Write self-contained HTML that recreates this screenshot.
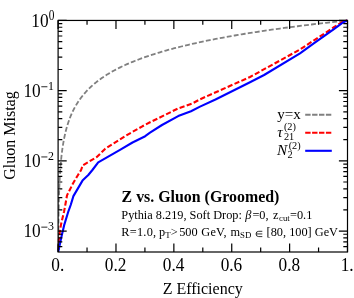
<!DOCTYPE html>
<html><head><meta charset="utf-8"><style>
html,body{margin:0;padding:0;background:#fff;}
svg{display:block;will-change:transform}
</style></head><body>
<svg width="354" height="298" viewBox="0 0 354 298">
<defs><clipPath id="c"><rect x="58.1" y="20.45" width="289.4" height="231.55"/></clipPath></defs>
<rect width="354" height="298" fill="#fff"/>
<path d="M58.25 252.00 L58.25 251.42 L58.25 250.84 L58.25 250.26 L58.26 249.68 L58.26 249.11 L58.26 248.53 L58.27 247.95 L58.27 247.37 L58.27 246.79 L58.28 246.21 L58.28 245.63 L58.28 245.05 L58.29 244.47 L58.29 243.90 L58.29 243.32 L58.30 242.74 L58.30 242.16 L58.30 241.58 L58.31 241.00 L58.31 240.42 L58.32 239.84 L58.32 239.26 L58.33 238.69 L58.33 238.11 L58.33 237.53 L58.34 236.95 L58.34 236.37 L58.35 235.79 L58.35 235.21 L58.36 234.63 L58.36 234.05 L58.37 233.48 L58.37 232.90 L58.38 232.32 L58.38 231.74 L58.39 231.16 L58.39 230.58 L58.40 230.00 L58.41 229.42 L58.41 228.84 L58.42 228.27 L58.42 227.69 L58.43 227.11 L58.44 226.53 L58.44 225.95 L58.45 225.37 L58.46 224.79 L58.46 224.21 L58.47 223.64 L58.48 223.06 L58.48 222.48 L58.49 221.90 L58.50 221.32 L58.51 220.74 L58.51 220.16 L58.52 219.58 L58.53 219.00 L58.54 218.43 L58.55 217.85 L58.55 217.27 L58.56 216.69 L58.57 216.11 L58.58 215.53 L58.59 214.95 L58.60 214.37 L58.61 213.79 L58.62 213.22 L58.63 212.64 L58.64 212.06 L58.65 211.48 L58.66 210.90 L58.67 210.32 L58.68 209.74 L58.69 209.16 L58.70 208.58 L58.72 208.01 L58.73 207.43 L58.74 206.85 L58.75 206.27 L58.76 205.69 L58.78 205.11 L58.79 204.53 L58.80 203.95 L58.82 203.37 L58.83 202.80 L58.85 202.22 L58.86 201.64 L58.87 201.06 L58.89 200.48 L58.90 199.90 L58.92 199.32 L58.94 198.74 L58.95 198.16 L58.97 197.59 L58.98 197.01 L59.00 196.43 L59.02 195.85 L59.04 195.27 L59.05 194.69 L59.07 194.11 L59.09 193.53 L59.11 192.95 L59.13 192.38 L59.15 191.80 L59.17 191.22 L59.19 190.64 L59.21 190.06 L59.23 189.48 L59.25 188.90 L59.28 188.32 L59.30 187.74 L59.32 187.17 L59.34 186.59 L59.37 186.01 L59.39 185.43 L59.42 184.85 L59.44 184.27 L59.47 183.69 L59.49 183.11 L59.52 182.53 L59.55 181.96 L59.58 181.38 L59.60 180.80 L59.63 180.22 L59.66 179.64 L59.69 179.06 L59.72 178.48 L59.75 177.90 L59.79 177.33 L59.82 176.75 L59.85 176.17 L59.88 175.59 L59.92 175.01 L59.95 174.43 L59.99 173.85 L60.03 173.27 L60.06 172.69 L60.10 172.12 L60.14 171.54 L60.18 170.96 L60.22 170.38 L60.26 169.80 L60.30 169.22 L60.34 168.64 L60.38 168.06 L60.43 167.48 L60.47 166.91 L60.52 166.33 L60.56 165.75 L60.61 165.17 L60.66 164.59 L60.71 164.01 L60.76 163.43 L60.81 162.85 L60.86 162.27 L60.91 161.70 L60.97 161.12 L61.02 160.54 L61.08 159.96 L61.14 159.38 L61.20 158.80 L61.25 158.22 L61.31 157.64 L61.38 157.06 L61.44 156.49 L61.50 155.91 L61.57 155.33 L61.64 154.75 L61.70 154.17 L61.77 153.59 L61.84 153.01 L61.91 152.43 L61.99 151.85 L62.06 151.28 L62.14 150.70 L62.22 150.12 L62.29 149.54 L62.37 148.96 L62.46 148.38 L62.54 147.80 L62.62 147.22 L62.71 146.64 L62.80 146.07 L62.89 145.49 L62.98 144.91 L63.08 144.33 L63.17 143.75 L63.27 143.17 L63.37 142.59 L63.47 142.01 L63.57 141.43 L63.68 140.86 L63.78 140.28 L63.89 139.70 L64.00 139.12 L64.12 138.54 L64.23 137.96 L64.35 137.38 L64.47 136.80 L64.59 136.22 L64.71 135.65 L64.84 135.07 L64.97 134.49 L65.10 133.91 L65.24 133.33 L65.37 132.75 L65.51 132.17 L65.66 131.59 L65.80 131.02 L65.95 130.44 L66.10 129.86 L66.25 129.28 L66.41 128.70 L66.57 128.12 L66.73 127.54 L66.89 126.96 L67.06 126.38 L67.24 125.81 L67.41 125.23 L67.59 124.65 L67.77 124.07 L67.96 123.49 L68.14 122.91 L68.34 122.33 L68.53 121.75 L68.73 121.17 L68.94 120.60 L69.15 120.02 L69.36 119.44 L69.57 118.86 L69.79 118.28 L70.02 117.70 L70.25 117.12 L70.48 116.54 L70.72 115.96 L70.96 115.39 L71.20 114.81 L71.45 114.23 L71.71 113.65 L71.97 113.07 L72.24 112.49 L72.51 111.91 L72.78 111.33 L73.07 110.75 L73.35 110.18 L73.65 109.60 L73.94 109.02 L74.25 108.44 L74.56 107.86 L74.87 107.28 L75.19 106.70 L75.52 106.12 L75.86 105.54 L76.20 104.97 L76.54 104.39 L76.90 103.81 L77.26 103.23 L77.62 102.65 L78.00 102.07 L78.38 101.49 L78.77 100.91 L79.16 100.33 L79.57 99.76 L79.98 99.18 L80.40 98.60 L80.83 98.02 L81.26 97.44 L81.71 96.86 L82.16 96.28 L82.62 95.70 L83.09 95.12 L83.57 94.55 L84.06 93.97 L84.55 93.39 L85.06 92.81 L85.58 92.23 L86.10 91.65 L86.64 91.07 L87.19 90.49 L87.75 89.92 L88.31 89.34 L88.89 88.76 L89.48 88.18 L90.09 87.60 L90.70 87.02 L91.32 86.44 L91.96 85.86 L92.61 85.28 L93.27 84.71 L93.95 84.13 L94.63 83.55 L95.33 82.97 L96.05 82.39 L96.77 81.81 L97.51 81.23 L98.27 80.65 L99.04 80.07 L99.83 79.50 L100.62 78.92 L101.44 78.34 L102.27 77.76 L103.12 77.18 L103.98 76.60 L104.86 76.02 L105.76 75.44 L106.67 74.86 L107.60 74.29 L108.55 73.71 L109.52 73.13 L110.50 72.55 L111.51 71.97 L112.53 71.39 L113.57 70.81 L114.64 70.23 L115.72 69.65 L116.83 69.08 L117.95 68.50 L119.10 67.92 L120.27 67.34 L121.46 66.76 L122.67 66.18 L123.91 65.60 L125.17 65.02 L126.46 64.44 L127.77 63.87 L129.10 63.29 L130.47 62.71 L131.85 62.13 L133.27 61.55 L134.71 60.97 L136.18 60.39 L137.67 59.81 L139.20 59.23 L140.75 58.66 L142.34 58.08 L143.95 57.50 L145.60 56.92 L147.27 56.34 L148.98 55.76 L150.73 55.18 L152.50 54.60 L154.31 54.02 L156.16 53.45 L158.04 52.87 L159.95 52.29 L161.90 51.71 L163.89 51.13 L165.92 50.55 L167.99 49.97 L170.09 49.39 L172.24 48.81 L174.43 48.24 L176.66 47.66 L178.93 47.08 L181.25 46.50 L183.61 45.92 L186.01 45.34 L188.47 44.76 L190.96 44.18 L193.51 43.60 L196.11 43.03 L198.75 42.45 L201.45 41.87 L204.20 41.29 L207.00 40.71 L209.85 40.13 L212.76 39.55 L215.72 38.97 L218.75 38.40 L221.83 37.82 L224.96 37.24 L228.16 36.66 L231.42 36.08 L234.74 35.50 L238.13 34.92 L241.58 34.34 L245.10 33.76 L248.68 33.19 L252.34 32.61 L256.06 32.03 L259.85 31.45 L263.72 30.87 L267.66 30.29 L271.68 29.71 L275.77 29.13 L279.95 28.55 L284.20 27.98 L288.53 27.40 L292.95 26.82 L297.45 26.24 L302.04 25.66 L306.72 25.08 L311.48 24.50 L316.34 23.92 L321.29 23.34 L326.33 22.77 L331.48 22.19 L336.72 21.61 L342.06 21.03 L347.50 20.45" stroke="#808080" stroke-width="1.8" stroke-dasharray="4.9 2.2" fill="none" clip-path="url(#c)"/>
<path d="M58.50 250.00 L58.90 239.60 L59.60 233.30 L61.00 224.50 L64.10 211.30 L65.30 205.00 L67.00 195.40 L73.40 182.70 L78.00 175.00 L81.10 170.00 L82.70 165.40 L96.80 157.00 L105.30 148.70 L114.10 143.20 L128.20 134.30 L142.40 126.30 L150.00 122.30 L164.10 115.40 L178.20 108.40 L192.40 103.40 L200.00 99.30 L250.00 77.00 L300.00 49.50 L314.00 40.30 L324.00 33.80 L333.90 27.20 L342.40 21.80 L347.40 20.40" stroke="#ff0000" stroke-width="2.1" stroke-dasharray="5.2 2.3" fill="none" stroke-linejoin="round"/>
<path d="M58.30 251.60 L61.50 236.50 L64.10 225.40 L68.40 211.30 L70.70 205.00 L73.40 196.10 L82.50 180.60 L88.30 175.00 L92.40 170.00 L98.20 162.30 L120.00 149.90 L132.50 142.50 L145.20 136.20 L150.00 132.70 L162.00 125.00 L178.20 116.10 L191.00 111.20 L200.00 106.60 L215.50 99.50 L250.00 82.30 L264.10 75.00 L300.00 53.40 L314.10 43.20 L324.00 36.20 L333.90 29.10 L342.40 22.80 L347.40 20.40" stroke="#0000ff" stroke-width="2.1" fill="none" stroke-linejoin="round"/>
<path d="M58.10 252.0v-8.6M58.10 20.45v8.6M87.04 252.0v-4.4M87.04 20.45v4.4M115.98 252.0v-8.6M115.98 20.45v8.6M144.92 252.0v-4.4M144.92 20.45v4.4M173.86 252.0v-8.6M173.86 20.45v8.6M202.80 252.0v-4.4M202.80 20.45v4.4M231.74 252.0v-8.6M231.74 20.45v8.6M260.68 252.0v-4.4M260.68 20.45v4.4M289.62 252.0v-8.6M289.62 20.45v8.6M318.56 252.0v-4.4M318.56 20.45v4.4M347.50 252.0v-8.6M347.50 20.45v8.6M58.1 20.45h8.6M347.5 20.45h-8.6M58.1 90.65h8.6M347.5 90.65h-8.6M58.1 69.52h4.2M347.5 69.52h-4.2M58.1 57.16h4.2M347.5 57.16h-4.2M58.1 48.39h4.2M347.5 48.39h-4.2M58.1 41.58h4.2M347.5 41.58h-4.2M58.1 36.02h4.2M347.5 36.02h-4.2M58.1 31.32h4.2M347.5 31.32h-4.2M58.1 27.25h4.2M347.5 27.25h-4.2M58.1 23.66h4.2M347.5 23.66h-4.2M58.1 160.85h8.6M347.5 160.85h-8.6M58.1 139.72h4.2M347.5 139.72h-4.2M58.1 127.36h4.2M347.5 127.36h-4.2M58.1 118.59h4.2M347.5 118.59h-4.2M58.1 111.78h4.2M347.5 111.78h-4.2M58.1 106.22h4.2M347.5 106.22h-4.2M58.1 101.52h4.2M347.5 101.52h-4.2M58.1 97.45h4.2M347.5 97.45h-4.2M58.1 93.86h4.2M347.5 93.86h-4.2M58.1 231.05h8.6M347.5 231.05h-8.6M58.1 209.92h4.2M347.5 209.92h-4.2M58.1 197.56h4.2M347.5 197.56h-4.2M58.1 188.79h4.2M347.5 188.79h-4.2M58.1 181.98h4.2M347.5 181.98h-4.2M58.1 176.42h4.2M347.5 176.42h-4.2M58.1 171.72h4.2M347.5 171.72h-4.2M58.1 167.65h4.2M347.5 167.65h-4.2M58.1 164.06h4.2M347.5 164.06h-4.2M58.1 246.62h4.2M347.5 246.62h-4.2M58.1 241.92h4.2M347.5 241.92h-4.2M58.1 237.85h4.2M347.5 237.85h-4.2M58.1 234.26h4.2M347.5 234.26h-4.2" stroke="#000" stroke-width="1.2" fill="none"/>
<rect x="58.1" y="20.45" width="289.4" height="231.55" fill="none" stroke="#000" stroke-width="1.2"/>
<path d="M305.2 114.8H331.8" stroke="#808080" stroke-width="1.9" stroke-dasharray="5.4 1.5" fill="none"/>
<path d="M305.2 132.7H331.8" stroke="#ff0000" stroke-width="2.1" stroke-dasharray="5.4 1.5" fill="none"/>
<path d="M305.2 150.8H331.8" stroke="#0000ff" stroke-width="2.1" fill="none"/>
<text transform="translate(57.80 270.6) scale(0.95 1)" text-anchor="middle" style="font-family:'Liberation Serif',serif;font-size:18.2px">0.</text>
<text transform="translate(115.68 270.6) scale(0.95 1)" text-anchor="middle" style="font-family:'Liberation Serif',serif;font-size:18.2px">0.2</text>
<text transform="translate(173.56 270.6) scale(0.95 1)" text-anchor="middle" style="font-family:'Liberation Serif',serif;font-size:18.2px">0.4</text>
<text transform="translate(231.44 270.6) scale(0.95 1)" text-anchor="middle" style="font-family:'Liberation Serif',serif;font-size:18.2px">0.6</text>
<text transform="translate(289.32 270.6) scale(0.95 1)" text-anchor="middle" style="font-family:'Liberation Serif',serif;font-size:18.2px">0.8</text>
<text transform="translate(347.20 270.6) scale(0.95 1)" text-anchor="middle" style="font-family:'Liberation Serif',serif;font-size:18.2px">1.</text>
<text transform="translate(48.60 26.85) scale(0.94 1)" text-anchor="end" style="font-family:'Liberation Serif',serif;font-size:18.4px;">10</text>
<text transform="translate(48.70 19.65) scale(0.84 1)" text-anchor="start" style="font-family:'Liberation Serif',serif;font-size:13.6px;">0</text>
<text transform="translate(40.70 96.95) scale(0.94 1)" text-anchor="end" style="font-family:'Liberation Serif',serif;font-size:18.4px;">10</text>
<text transform="translate(47.90 89.95) scale(0.96 1)" text-anchor="start" style="font-family:'Liberation Serif',serif;font-size:12.4px;">1</text>
<path d="M41.3 86.75H47.4" stroke="#000" stroke-width="0.85"/>
<text transform="translate(40.70 167.15) scale(0.94 1)" text-anchor="end" style="font-family:'Liberation Serif',serif;font-size:18.4px;">10</text>
<text transform="translate(47.90 160.15) scale(0.96 1)" text-anchor="start" style="font-family:'Liberation Serif',serif;font-size:12.4px;">2</text>
<path d="M41.3 156.95H47.4" stroke="#000" stroke-width="0.85"/>
<text transform="translate(40.70 237.35) scale(0.94 1)" text-anchor="end" style="font-family:'Liberation Serif',serif;font-size:18.4px;">10</text>
<text transform="translate(47.90 230.35) scale(0.96 1)" text-anchor="start" style="font-family:'Liberation Serif',serif;font-size:12.4px;">3</text>
<path d="M41.3 227.15H47.4" stroke="#000" stroke-width="0.85"/>
<text x="202.7" y="293.5" text-anchor="middle" style="font-family:'Liberation Serif',serif;font-size:16px">Z Efficiency</text>
<text transform="translate(15.1,135.5) rotate(-90)" text-anchor="middle" style="font-family:'Liberation Serif',serif;font-size:16px">Gluon Mistag</text>
<text x="121.6" y="201.7" style="font-family:'Liberation Serif',serif;font-size:15.9px;font-weight:bold">Z vs. Gluon (Groomed)</text>
<text y="219.3" style="font-family:'Liberation Serif',serif;font-size:12.3px"><tspan x="121.3">Pythia 8.219, Soft Drop:</tspan><tspan x="245.3" font-style="italic">β</tspan><tspan x="252.4">=0,</tspan><tspan x="273.0">z</tspan><tspan x="279" dy="2" style="font-size:8.8px">cut</tspan><tspan x="290" dy="-2">=0.1</tspan></text>
<text y="235.9" style="font-family:'Liberation Serif',serif;font-size:12.3px"><tspan x="121.3" letter-spacing="0.25">R=1.0,</tspan><tspan x="158.9">p</tspan><tspan x="165.2" dy="2" style="font-size:8.8px">T</tspan><tspan x="170.7" dy="-2">&gt;</tspan><tspan x="179.2">500</tspan><tspan x="201.3" letter-spacing="0.2">GeV,</tspan><tspan x="230.5">m</tspan><tspan x="240.1" dy="2" style="font-size:8.8px">SD</tspan><tspan x="266.6" dy="-2">[80, 100] GeV</tspan></text>
<path d="M262.3 231.3H258.7A2.65 2.65 0 0 0 258.7 236.6H262.3M256.1 233.95H262.3" stroke="#000" stroke-width="0.8" fill="none"/>
<text x="277.2" y="118.7" style="font-family:'Liberation Serif',serif;font-size:15.1px">y=x</text>
<text x="277.2" y="136.7" style="font-family:'Liberation Serif',serif;font-size:15.2px;font-style:italic">τ</text>
<text x="283.9" y="130.4" style="font-family:'Liberation Serif',serif;font-size:10.3px">(2)</text>
<text x="283.9" y="139.5" style="font-family:'Liberation Serif',serif;font-size:10.3px">21</text>
<text x="276.9" y="155.1" style="font-family:'Liberation Serif',serif;font-size:15.3px;font-style:italic">N</text>
<text x="288.7" y="148.6" style="font-family:'Liberation Serif',serif;font-size:10.3px">(2)</text>
<text x="287.4" y="158.3" style="font-family:'Liberation Serif',serif;font-size:10.3px">2</text>
</svg>
</body></html>
